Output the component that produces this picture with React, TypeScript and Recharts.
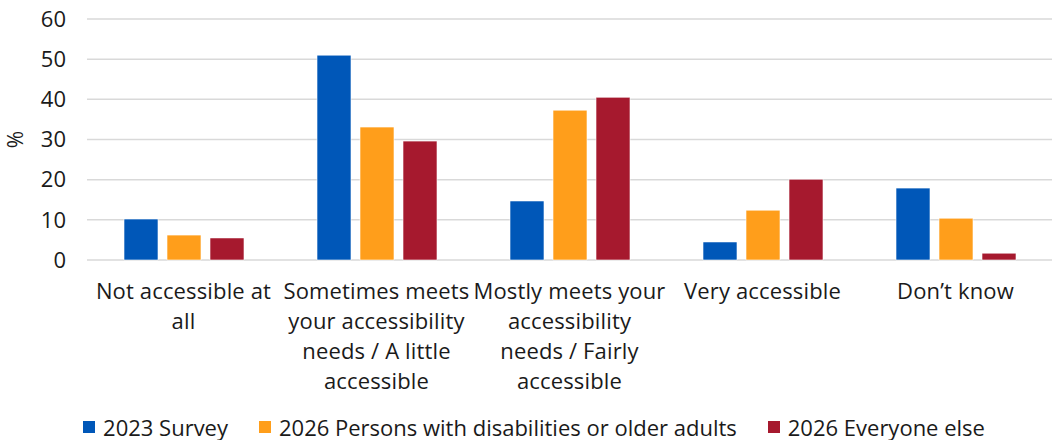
import { Bar, BarChart, CartesianGrid, Legend, XAxis, YAxis } from "recharts";

const CATEGORIES = [
  "Not accessible at all",
  "Sometimes meets your accessibility needs / A little accessible",
  "Mostly meets your accessibility needs / Fairly accessible",
  "Very accessible",
  "Don\u2019t know",
];

// line breaks for the category labels under the axis
const CATEGORY_LINES = [
  ["Not accessible at", "all"],
  ["Sometimes meets", "your accessibility", "needs / A little", "accessible"],
  ["Mostly meets your", "accessibility", "needs / Fairly", "accessible"],
  ["Very accessible"],
  ["Don\u2019t know"],
];

const SURVEY_2023 = [10.2, 51.0, 14.7, 4.5, 17.9];
const PWD_OLDER_2026 = [6.2, 33.1, 37.3, 12.4, 10.4];
const EVERYONE_ELSE_2026 = [5.5, 29.6, 40.5, 20.1, 1.7];

const Y_TICKS = [0, 10, 20, 30, 40, 50, 60];

const SERIES = [
  { key: "s2023", name: "2023 Survey", color: "#0057B8" },
  { key: "pwd2026", name: "2026 Persons with disabilities or older adults", color: "#FF9E1B" },
  { key: "else2026", name: "2026 Everyone else", color: "#A6192E" },
];

const data = CATEGORIES.map((c, i) => ({
  category: c,
  s2023: SURVEY_2023[i],
  pwd2026: PWD_OLDER_2026[i],
  else2026: EVERYONE_ELSE_2026[i],
}));

const FONT = "'Open Sans', Roboto, sans-serif";
const TEXT = "#1a1a1a";

function CategoryTick(props: any) {
  const { x, y, payload } = props;
  const lines = CATEGORY_LINES[payload.index] ?? [payload.value];
  return (
    <text
      x={x}
      y={y + 31}
      textAnchor="middle"
      fontSize={22}
      letterSpacing={0.15}
      fill={TEXT}
      fontFamily={FONT}
    >
      {lines.map((l: string, i: number) => (
        <tspan key={i} x={x} dy={i === 0 ? 0 : 30}>
          {l}
        </tspan>
      ))}
    </text>
  );
}

function LegendContent() {
  return (
    <div
      style={{
        height: 26,
        display: "flex",
        justifyContent: "center",
        alignItems: "center",
        gap: 31,
        fontFamily: FONT,
        fontSize: 22,
        color: TEXT,
        paddingLeft: 16,
      }}
    >
      {SERIES.map((s) => (
        <div key={s.key} style={{ display: "flex", alignItems: "center", gap: 8 }}>
          <span style={{ width: 12, height: 12, background: s.color, display: "inline-block" }} />
          <span>{s.name}</span>
        </div>
      ))}
    </div>
  );
}

export default function App() {
  return (
    <div style={{ position: "absolute", left: 0, top: 0, width: 1056, height: 440, background: "#fff" }}>
      <BarChart
        width={1056}
        height={440}
        data={data}
        margin={{ top: 19, right: 4, left: 0, bottom: 0 }}
        barSize={34}
        barGap={9}
      >
        <CartesianGrid stroke="#d9d9d9" strokeWidth={1.5} vertical={false} />
        <XAxis
          dataKey="category"
          axisLine={false}
          tickLine={false}
          interval={0}
          height={154}
          tick={<CategoryTick />}
        />
        <YAxis
          domain={[0, 60]}
          ticks={Y_TICKS}
          width={87}
          axisLine={false}
          tickLine={false}
          tickMargin={15}
          tick={{ fontSize: 22, fill: TEXT, fontFamily: FONT }}
          label={{
            value: "%",
            angle: -90,
            position: "insideLeft",
            offset: 16,
            fontSize: 21,
            fill: TEXT,
            fontFamily: FONT,
            textAnchor: "middle",
          }}
        />
        <Legend verticalAlign="bottom" height={26} content={<LegendContent />} />
        {SERIES.map((s) => (
          <Bar
            key={s.key}
            dataKey={s.key}
            name={s.name}
            fill={s.color}
            stroke="rgba(255,255,255,0.6)"
            strokeWidth={1}
            isAnimationActive={false}
          />
        ))}
      </BarChart>
    </div>
  );
}
